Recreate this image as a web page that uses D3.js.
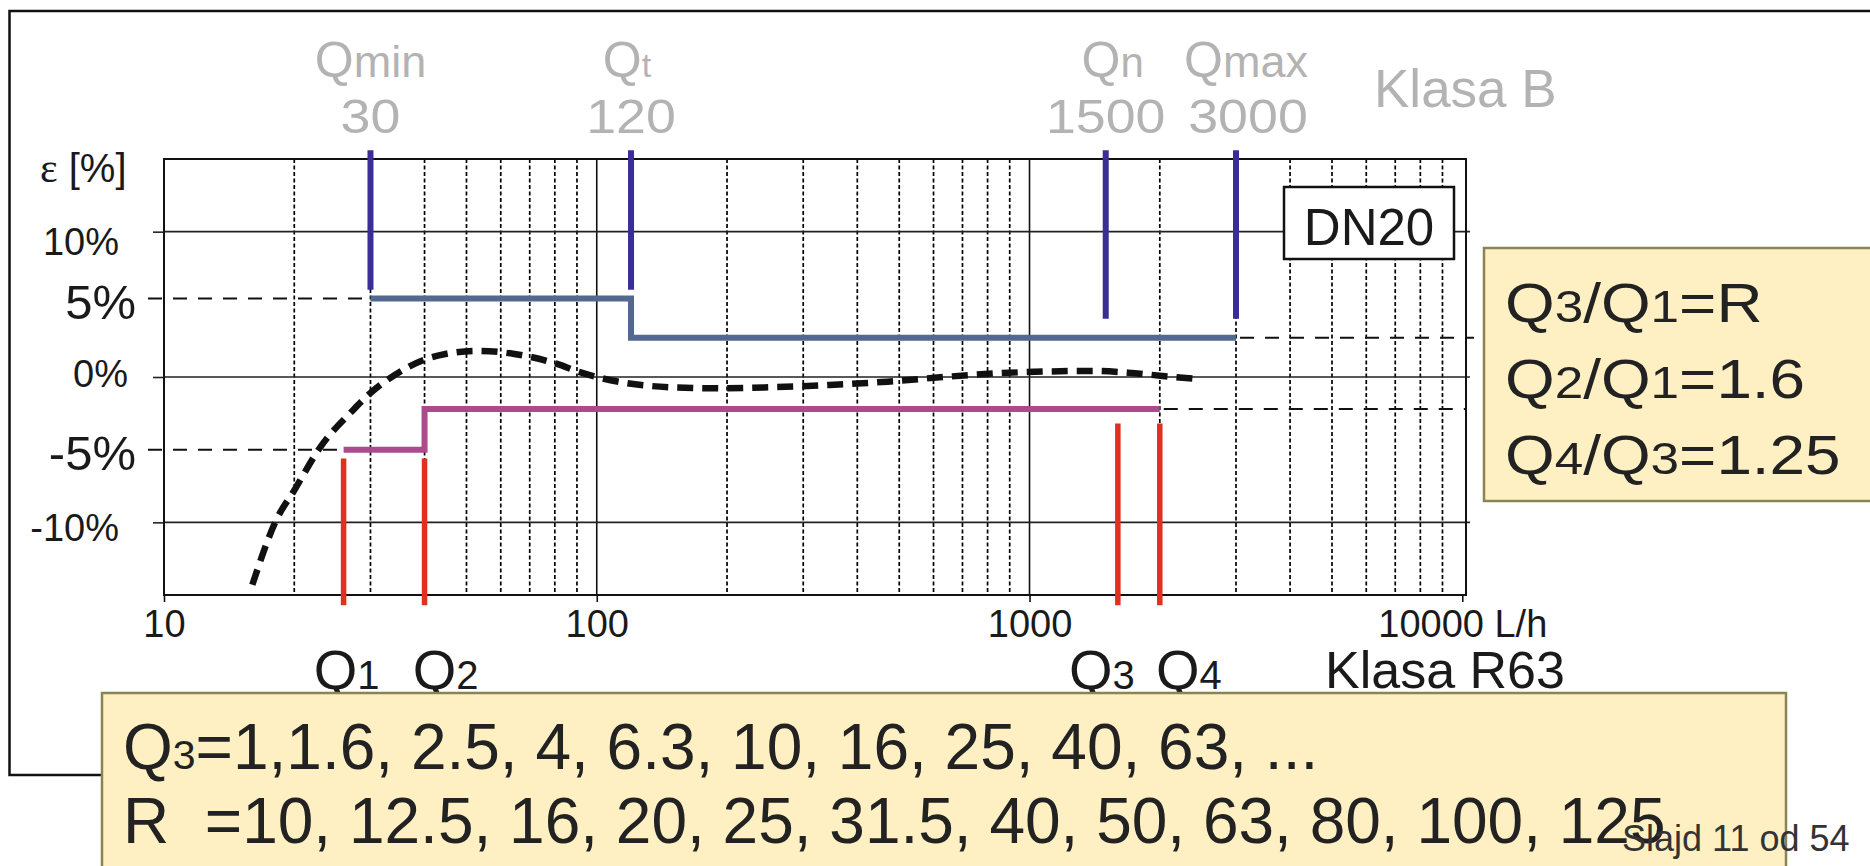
<!DOCTYPE html>
<html>
<head>
<meta charset="utf-8">
<script src="https://cdn.jsdelivr.net/npm/d3@7"></script>
<style>
  body { margin: 0; background: #fff; }
  text { font-family: "Liberation Sans", Arial, sans-serif; }
</style>
</head>
<body>
<div id="chart"></div>
<script>
// krzywa bledu wodomierza: przeplyw Q [L/h], blad eps [%]
var errQ   = [16, 18.2, 20, 23, 27.3, 30, 34, 40, 45, 53, 64, 81, 91, 100, 116, 147, 192, 253, 345, 470, 633, 862, 1100, 1400, 1690, 2030, 2400];
var errEps = [-14.3, -9.8, -7.8, -4.8, -2.3, -1.1, 0.1, 1.2, 1.6, 1.8, 1.6, 0.9, 0.35, 0, -0.4, -0.7, -0.78, -0.7, -0.55, -0.32, 0, 0.27, 0.38, 0.42, 0.3, 0.07, -0.12];

// klasa B: Qmin, Qt, Qn, Qmax
var flowNames   = ["min", "t", "n", "max"];
var flowValues  = [30, 120, 1500, 3000];
var flowMarkEnd = [6, 6, 4, 4];
var upperQ   = [30, 120, 3000];
var upperEps = [5.4, 2.7, 2.7];

// klasa R63: Q1..Q4
var rNames   = ["1", "2", "3", "4"];
var rValues  = [26, 40, 1600, 2000];
var rMarkTop = [-5.6, -5.6, -3.2, -3.2];
var lowerQ   = [26, 40, 2000];
var lowerEps = [-5, -2.2, -2.2];

var xTicks = [10, 100, 1000, 10000];
var xTickLabels = ["10", "100", "1000", "10000 L/h"];
var yTicks = [10, 0, -10];
var yTickLabels = ["10%", "0%", "-10%"];
var guideEps = [5.4, -5];
var guideLabels = ["5%", "-5%"];

var ratioLines = [
  [["Q", 0], ["3", 1], ["/Q", 0], ["1", 1], ["=R", 0]],
  [["Q", 0], ["2", 1], ["/Q", 0], ["1", 1], ["=1.6", 0]],
  [["Q", 0], ["4", 1], ["/Q", 0], ["3", 1], ["=1.25", 0]]
];
var seriesLines = [
  [["Q", 0], ["3", 1], ["=1,1.6, 2.5, 4, 6.3, 10, 16, 25, 40, 63, ...", 0]],
  [["R  =10, 12.5, 16, 20, 25, 31.5, 40, 50, 63, 80, 100, 125", 0]]
];

var margin = {top: 159, left: 164};
var width = 1302, height = 436;
var W = 1870, H = 866;

var svg = d3.select("#chart").append("svg")
  .attr("width", W).attr("height", H);

// tekst z czesciami w roznych rozmiarach, opcjonalnie rozciagniety w poziomie
function label(parent, x, y, parts, sizes, opt) {
  opt = opt || {};
  var t = parent.append("text")
    .attr("transform", "translate(" + x + "," + y + ") scale(" + (opt.sx || 1) + ",1)")
    .attr("text-anchor", opt.anchor || "start")
    .attr("fill", opt.fill || "#1a1a1a")
    .style("white-space", "pre");
  parts.forEach(function(p) {
    var s = t.append("tspan").attr("font-size", sizes[p[1]]).text(p[0]);
    if (opt.fonts && opt.fonts[p[1]]) s.attr("font-family", opt.fonts[p[1]]);
  });
  return t;
}

// ramka slajdu
svg.append("path")
  .attr("d", "M" + W + ",11 L9.5,11 L9.5,775 L110,775")
  .attr("fill", "none").attr("stroke", "#111").attr("stroke-width", 2.5);

var g = svg.append("g")
  .attr("transform", "translate(" + margin.left + "," + margin.top + ")");

var x = d3.scaleLog().domain([10, 10200]).range([0, width]);
var y = d3.scaleLinear().domain([-15, 15]).range([height, 0]);

// siatka pomocnicza 2..9 w kazdej dekadzie
var minor = [];
xTicks.slice(0, -1).forEach(function(d) {
  for (var k = 2; k < 10; k++) minor.push(d * k);
});
g.selectAll(".minor").data(minor).enter().append("line")
  .attr("x1", function(d) { return x(d); }).attr("x2", function(d) { return x(d); })
  .attr("y1", 0).attr("y2", height)
  .attr("stroke", "#000").attr("stroke-width", 1.7).attr("stroke-dasharray", "4,2.5");

g.selectAll(".major").data([100, 1000]).enter().append("line")
  .attr("x1", function(d) { return x(d); }).attr("x2", function(d) { return x(d); })
  .attr("y1", 0).attr("y2", height)
  .attr("stroke", "#111").attr("stroke-width", 1.6);

g.selectAll(".hgrid").data(yTicks).enter().append("line")
  .attr("x1", 0).attr("x2", width + 4)
  .attr("y1", function(d) { return y(d); }).attr("y2", function(d) { return y(d); })
  .attr("stroke", "#222").attr("stroke-width", 1.6);

g.append("rect").attr("width", width).attr("height", height)
  .attr("fill", "none").attr("stroke", "#111").attr("stroke-width", 2);

// osie
var xAxis = g.append("g")
  .attr("transform", "translate(0," + height + ")")
  .call(d3.axisBottom(x).tickValues(xTicks).tickSize(7).tickPadding(8)
    .tickFormat(function(d, i) { return xTickLabels[i]; }));
xAxis.select(".domain").remove();
xAxis.selectAll("line").attr("stroke", "#111").attr("stroke-width", 1.6);
xAxis.selectAll("text").attr("font-size", 38).attr("fill", "#1a1a1a")
  .attr("font-family", "Liberation Sans, Arial, sans-serif");

var yLabelShift = [[0, 6], [9, -8], [0, 1]];
var yAxis = g.append("g")
  .call(d3.axisLeft(y).tickValues(yTicks).tickSize(11).tickPadding(34)
    .tickFormat(function(d, i) { return yTickLabels[i]; }));
yAxis.select(".domain").remove();
yAxis.selectAll("line").attr("stroke", "#222").attr("stroke-width", 1.6);
yAxis.selectAll("text").attr("font-size", 38).attr("fill", "#1a1a1a").attr("dy", "0.45em")
  .attr("font-family", "Liberation Sans, Arial, sans-serif")
  .attr("transform", function(d, i) { return "translate(" + yLabelShift[i][0] + "," + yLabelShift[i][1] + ")"; });

// linie pomocnicze 5% / -5%
g.selectAll(".guide").data(guideEps).enter().append("line")
  .attr("x1", -16).attr("x2", x(flowValues[0]))
  .attr("y1", function(d) { return y(d); }).attr("y2", function(d) { return y(d); })
  .attr("stroke", "#111").attr("stroke-width", 2).attr("stroke-dasharray", "14,11");

g.append("line")
  .attr("x1", x(upperQ[2]) + 4).attr("x2", width + 8)
  .attr("y1", y(upperEps[2])).attr("y2", y(upperEps[2]))
  .attr("stroke", "#111").attr("stroke-width", 2).attr("stroke-dasharray", "14,11");
g.append("line")
  .attr("x1", x(lowerQ[2]) + 4).attr("x2", width)
  .attr("y1", y(lowerEps[2])).attr("y2", y(lowerEps[2]))
  .attr("stroke", "#111").attr("stroke-width", 2).attr("stroke-dasharray", "14,11");

guideEps.forEach(function(d, i) {
  label(svg, 136, margin.top + y(d) + 20, [[guideLabels[i], 0]], [49], {anchor: "end"});
});

// krzywa bledu
var curve = d3.line()
  .x(function(d) { return x(d[0]); })
  .y(function(d) { return y(d[1]); })
  .curve(d3.curveMonotoneX);
g.append("path")
  .datum(errQ.map(function(q, i) { return [q, errEps[i]]; }))
  .attr("d", curve)
  .attr("fill", "none").attr("stroke", "#111").attr("stroke-width", 6.5)
  .attr("stroke-dasharray", "16,9");

// granice MPE
var step = d3.line()
  .x(function(d) { return x(d[0]); })
  .y(function(d) { return y(d[1]); })
  .curve(d3.curveStepAfter);
g.append("path")
  .datum(upperQ.map(function(q, i) { return [q, upperEps[i]]; }))
  .attr("d", step).attr("fill", "none")
  .attr("stroke", "#53688f").attr("stroke-width", 6);
g.append("path")
  .datum(lowerQ.map(function(q, i) { return [q, lowerEps[i]]; }))
  .attr("d", step).attr("fill", "none")
  .attr("stroke", "#ad4a8d").attr("stroke-width", 6);

// znaczniki przeplywow
g.selectAll(".flow").data(flowValues).enter().append("line")
  .attr("x1", function(d) { return x(d); }).attr("x2", function(d) { return x(d); })
  .attr("y1", y(15.6)).attr("y2", function(d, i) { return y(flowMarkEnd[i]); })
  .attr("stroke", "#3a2d98").attr("stroke-width", 6);

g.selectAll(".rflow").data(rValues).enter().append("line")
  .attr("x1", function(d) { return x(d); }).attr("x2", function(d) { return x(d); })
  .attr("y1", function(d, i) { return y(rMarkTop[i]); }).attr("y2", y(-15.7))
  .attr("stroke", "#e0301e").attr("stroke-width", 5.5);

// opisy u gory (szare)
var gray = "#b3b3b3";
var topNudge = [0, -4, 7, 10];
var subSize = {min: 45, t: 34, n: 42, max: 45};
flowValues.forEach(function(q, i) {
  var cx = margin.left + x(q);
  label(svg, cx + topNudge[i], 77, [["Q", 0], [flowNames[i], 1]], [50, subSize[flowNames[i]]],
    {anchor: "middle", fill: gray});
  label(svg, cx + (i == 3 ? 12 : 0), 133, [[String(q), 0]], [48], {anchor: "middle", fill: gray, sx: 1.12});
});
label(svg, 1374, 107, [["Klasa B", 0]], [53], {fill: gray});

label(svg, 40, 182, [["\u03b5", 0], [" [%]", 1]], [42, 40],
  {fonts: ["Liberation Serif, serif", null]});

// opisy na dole
var botNudge = [3, 21, -16, 29];
rValues.forEach(function(q, i) {
  label(svg, margin.left + x(q) + botNudge[i], 689, [["Q", 0], [rNames[i], 1]], [56, 40], {anchor: "middle"});
});
label(svg, 1325, 688, [["Klasa R63", 0]], [52]);

// ramka DN20
svg.append("rect").attr("x", 1284).attr("y", 187).attr("width", 170).attr("height", 72)
  .attr("fill", "#fff").attr("stroke", "#111").attr("stroke-width", 2.5);
label(svg, 1369, 245, [["DN20", 0]], [51], {anchor: "middle"});

// zolte pola
var boxFill = "#fef0c3", boxLine = "#8a8352";
svg.append("rect").attr("x", 1484).attr("y", 248).attr("width", 400).attr("height", 253)
  .attr("fill", boxFill).attr("stroke", boxLine).attr("stroke-width", 2.5);
ratioLines.forEach(function(parts, i) {
  label(svg, 1505, 322 + i * 76, parts, [56, 45], {sx: 1.14, fill: "#222"});
});

svg.append("rect").attr("x", 102).attr("y", 693).attr("width", 1684).attr("height", 200)
  .attr("fill", boxFill).attr("stroke", boxLine).attr("stroke-width", 2.5);
label(svg, 123, 769, seriesLines[0], [64, 41], {fill: "#222"});
label(svg, 123, 843, seriesLines[1], [64, 41], {fill: "#222"});

label(svg, 1622, 851, [["Slajd 11 od 54", 0]], [36], {fill: "#333"});
</script>
</body>
</html>
